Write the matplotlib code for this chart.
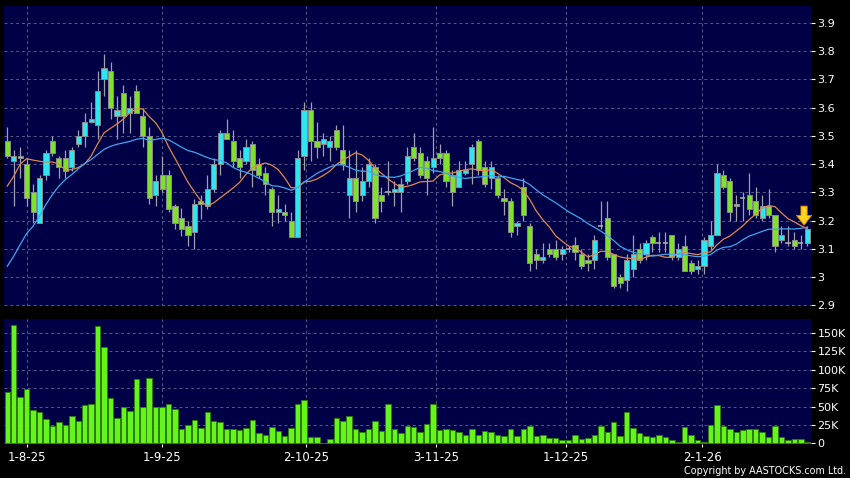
import numpy as np
import pandas as pd
import matplotlib
matplotlib.use("Agg")
import matplotlib.pyplot as plt

# daily OHLC (oldest first)
opens = [3.48, 3.41, 3.43, 3.40, 3.30, 3.19, 3.36, 3.48, 3.42, 3.42,
         3.39, 3.47, 3.50, 3.55, 3.54, 3.70, 3.73, 3.57, 3.65, 3.58,
         3.66, 3.57, 3.50, 3.29, 3.36, 3.36, 3.25, 3.21, 3.18, 3.16,
         3.27, 3.25, 3.31, 3.40, 3.51, 3.48, 3.42, 3.41, 3.47, 3.40,
         3.37, 3.31, 3.23, 3.23, 3.20, 3.14, 3.43, 3.59, 3.48, 3.47,
         3.46, 3.52, 3.45, 3.29, 3.35, 3.29, 3.34, 3.39, 3.29, 3.30,
         3.30, 3.30, 3.34, 3.46, 3.44, 3.41, 3.39, 3.44, 3.44, 3.36,
         3.32, 3.37, 3.40, 3.48, 3.39, 3.35, 3.35, 3.28, 3.27, 3.18,
         3.32, 3.18, 3.08, 3.06, 3.10, 3.10, 3.08, 3.10, 3.115, 3.08,
         3.06, 3.06, 3.18, 3.21, 3.08, 3.00, 2.99, 3.03, 3.10, 3.08,
         3.14, 3.12, 3.12, 3.15, 3.07, 3.11, 3.05, 3.03, 3.04, 3.11,
         3.15, 3.36, 3.34, 3.26, 3.28, 3.29, 3.27, 3.21, 3.25, 3.22,
         3.13, 3.12, 3.13, 3.12, 3.12]
highs = [3.53, 3.45, 3.46, 3.42, 3.33, 3.36, 3.45, 3.50, 3.43, 3.45,
         3.46, 3.52, 3.58, 3.62, 3.73, 3.79, 3.76, 3.64, 3.68, 3.64,
         3.68, 3.60, 3.53, 3.36, 3.43, 3.38, 3.26, 3.245, 3.20, 3.275,
         3.29, 3.36, 3.42, 3.52, 3.56, 3.52, 3.45, 3.49, 3.48, 3.42,
         3.39, 3.32, 3.29, 3.26, 3.23, 3.45, 3.62, 3.62, 3.55, 3.51,
         3.50, 3.54, 3.54, 3.45, 3.45, 3.39, 3.42, 3.40, 3.32, 3.41,
         3.34, 3.35, 3.46, 3.51, 3.46, 3.43, 3.53, 3.47, 3.45, 3.38,
         3.41, 3.41, 3.47, 3.49, 3.41, 3.41, 3.36, 3.31, 3.28, 3.20,
         3.35, 3.19, 3.10, 3.12, 3.12, 3.13, 3.11, 3.11, 3.14, 3.10,
         3.08, 3.15, 3.27, 3.27, 3.08, 3.01, 3.08, 3.15, 3.12, 3.13,
         3.15, 3.16, 3.16, 3.15, 3.12, 3.15, 3.06, 3.06, 3.14, 3.20,
         3.40, 3.38, 3.35, 3.29, 3.30, 3.37, 3.32, 3.29, 3.31, 3.22,
         3.18, 3.18, 3.16, 3.15, 3.18]
lows = [3.42, 3.25, 3.35, 3.25, 3.19, 3.19, 3.345, 3.43, 3.35, 3.35,
        3.375, 3.46, 3.46, 3.545, 3.49, 3.64, 3.56, 3.49, 3.51, 3.51,
        3.58, 3.46, 3.26, 3.25, 3.30, 3.23, 3.17, 3.145, 3.11, 3.10,
        3.205, 3.24, 3.30, 3.36, 3.49, 3.39, 3.35, 3.40, 3.32, 3.35,
        3.29, 3.18, 3.19, 3.20, 3.14, 3.14, 3.38, 3.41, 3.42, 3.43,
        3.41, 3.45, 3.38, 3.21, 3.23, 3.27, 3.32, 3.19, 3.23, 3.29,
        3.25, 3.23, 3.33, 3.41, 3.35, 3.29, 3.37, 3.40, 3.32, 3.25,
        3.32, 3.36, 3.33, 3.36, 3.32, 3.31, 3.28, 3.22, 3.14, 3.15,
        3.20, 3.02, 3.03, 3.05, 3.07, 3.06, 3.06, 3.09, 3.06, 3.03,
        3.02, 3.03, 3.17, 3.06, 2.96, 2.96, 2.95, 3.00, 3.05, 3.06,
        3.09, 3.09, 3.09, 3.06, 3.06, 3.02, 3.01, 3.01, 3.01, 3.10,
        3.15, 3.31, 3.20, 3.20, 3.20, 3.22, 3.21, 3.20, 3.21, 3.09,
        3.12, 3.11, 3.10, 3.10, 3.11]
closes = [3.43, 3.43, 3.42, 3.28, 3.23, 3.35, 3.44, 3.44, 3.39, 3.375,
          3.45, 3.50, 3.55, 3.56, 3.66, 3.74, 3.60, 3.59, 3.57, 3.60,
          3.58, 3.50, 3.28, 3.34, 3.31, 3.24, 3.19, 3.17, 3.15, 3.26,
          3.26, 3.31, 3.40, 3.51, 3.49, 3.41, 3.39, 3.46, 3.38, 3.36,
          3.33, 3.23, 3.24, 3.22, 3.14, 3.42, 3.59, 3.48, 3.46, 3.49,
          3.48, 3.46, 3.40, 3.35, 3.27, 3.34, 3.40, 3.21, 3.27, 3.30,
          3.31, 3.33, 3.43, 3.42, 3.36, 3.35, 3.42, 3.42, 3.34, 3.30,
          3.38, 3.38, 3.46, 3.38, 3.33, 3.39, 3.29, 3.27, 3.16, 3.19,
          3.22, 3.05, 3.06, 3.07, 3.08, 3.07, 3.10, 3.10, 3.09, 3.04,
          3.05, 3.13, 3.18, 3.07, 2.97, 2.98, 3.06, 3.08, 3.06, 3.12,
          3.12, 3.12, 3.12, 3.07, 3.10, 3.02, 3.02, 3.04, 3.13, 3.15,
          3.37, 3.32, 3.23, 3.25, 3.28, 3.24, 3.22, 3.25, 3.22, 3.11,
          3.15, 3.12, 3.11, 3.12, 3.17]
volumes_k = [70, 161, 63, 74, 45, 42, 33, 23, 29, 25,
             37, 31, 52, 53, 160, 131, 62, 34, 50, 44,
             87, 49, 89, 50, 49, 53, 47, 20, 25, 32,
             21, 43, 30, 29, 19, 19, 18, 21, 32, 14,
             12, 22, 17, 10, 21, 53, 59, 9, 9, 1,
             6, 34, 30, 37, 19, 16, 19, 30, 17, 53,
             19, 14, 24, 22, 15, 26, 53, 18, 20, 18,
             15, 11, 20, 11, 17, 15, 11, 10, 20, 10,
             20, 24, 10, 11, 7, 7, 5, 5, 11, 6,
             7, 12, 23, 16, 29, 10, 42, 21, 14, 10,
             8, 12, 8, 5, 2, 22, 11, 5, 2, 25,
             52, 24, 19, 15, 18, 19, 20, 15, 8, 23,
             9, 5, 6, 6, 2]

# moving averages before enough history is on screen
ma10_head = [3.322, 3.357, 3.40, 3.419, 3.414, 3.41, 3.407, 3.407, 3.40]
ma20_head = [3.038, 3.074, 3.115, 3.154, 3.18, 3.216, 3.257, 3.292, 3.322,
             3.345, 3.363, 3.383, 3.402, 3.416, 3.434, 3.452, 3.463, 3.47, 3.475]

date_labels = ["1-8-25", "1-9-25", "2-10-25", "3-11-25", "1-12-25", "2-1-26"]
date_pos = [3, 24, 46.3, 66.5, 86.6, 107.7]
price_ticks = [2.9, 3.0, 3.1, 3.2, 3.3, 3.4, 3.5, 3.6, 3.7, 3.8, 3.9]
price_tick_labels = ["2.9", "3", "3.1", "3.2", "3.3", "3.4", "3.5", "3.6", "3.7", "3.8", "3.9"]
vol_ticks = [0, 25, 50, 75, 100, 125, 150]
vol_tick_labels = ["0", "25K", "50K", "75K", "100K", "125K", "150K"]

o = np.array(opens)
h = np.array(highs)
l = np.array(lows)
c = np.array(closes)
x = np.arange(len(c))

close_s = pd.Series(c)
ma10 = close_s.rolling(10).mean().to_numpy()
ma10[:len(ma10_head)] = ma10_head
ma20 = close_s.rolling(20).mean().to_numpy()
ma20[:len(ma20_head)] = ma20_head

BG = "#000000"
PANEL = "#000046"
GRID = "#5a5a8c"
UP = "#2ee6f0"
DOWN = "#7fe22a"
DOJI = "#a8a8a8"

fig = plt.figure(figsize=(8.5, 4.78), dpi=100, facecolor=BG)
ax = fig.add_axes([4 / 850, (478 - 306) / 478, 806.5 / 850, 300.3 / 478])
axv = fig.add_axes([4 / 850, (478 - 444) / 478, 806.5 / 850, 125 / 478])

for a in (ax, axv):
    a.set_facecolor(PANEL)
    for s in a.spines.values():
        s.set_visible(False)
    a.set_xlim(-0.51, len(c) - 0.5)
    a.set_xticks(date_pos)
    a.grid(True, color=GRID, linestyle=(0, (3, 3)), linewidth=0.7)
    a.set_axisbelow(True)
    a.yaxis.tick_right()
    a.tick_params(axis="y", colors="white", labelsize=8, length=3, width=0.8, pad=2)
    a.tick_params(axis="x", colors="white", labelsize=8.5, length=2.5, width=0.8, pad=2.2)

# candles
up = c > o
dn = c < o
flat = c == o
ax.vlines(x, l, h, color="#a0a0ac", linewidth=0.9, zorder=2)
body_lo = np.minimum(o, c)
body_h = np.abs(c - o)
ax.bar(x[up], body_h[up], bottom=body_lo[up], width=0.8, color=UP,
       edgecolor="#8c8c8c", linewidth=0.7, zorder=3)
ax.bar(x[dn], body_h[dn], bottom=body_lo[dn], width=0.8, color=DOWN,
       edgecolor="#8c8c8c", linewidth=0.7, zorder=3)
ax.hlines(c[flat], x[flat] - 0.4, x[flat] + 0.4, color=DOJI, linewidth=1.2, zorder=3)

ax.plot(x, ma10, color="#e0884a", linewidth=0.9, zorder=4)
ax.plot(x, ma20, color="#3fa6ee", linewidth=0.9, zorder=4)

# marker arrow on the latest bar
ax.annotate("", xy=(x[-1] - 0.5, ma10[-1] + 0.003), xytext=(x[-1] - 0.5, ma10[-1] + 0.09),
            arrowprops=dict(arrowstyle="simple,head_width=1.1,head_length=0.7,tail_width=0.45",
                            fc="#ffd21f", ec="#d08a00", lw=0.6), zorder=6)

ax.set_ylim(2.8975, 3.9606)
ax.set_yticks(price_ticks)
ax.set_yticklabels(price_tick_labels)
ax.tick_params(axis="x", length=0, labelbottom=False)

axv.bar(x, volumes_k, width=0.85, color="#66f51a", edgecolor="#2e7d0a", linewidth=0.6, zorder=3)
axv.set_ylim(-0.9, 169)
axv.set_yticks(vol_ticks)
axv.set_yticklabels(vol_tick_labels)
axv.set_xticklabels(date_labels)

fig.text(0.995, 0.004, "Copyright by AASTOCKS.com Ltd.", color="white", fontsize=6.9,
         ha="right", va="bottom")

fig.savefig("out.png", dpi=100, facecolor=BG)
